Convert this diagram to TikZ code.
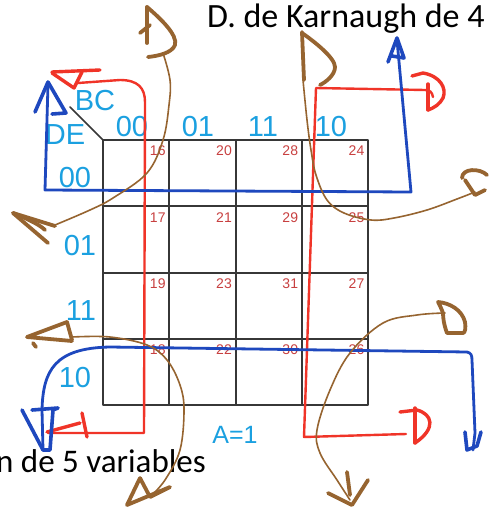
\documentclass[tikz,border=0pt]{standalone}
\usepackage{fontspec}
\setmainfont{Liberation Sans}
\newfontfamily\calib{Carlito}
\usetikzlibrary{calc}
\definecolor{kcyan}{RGB}{27,160,224}
\definecolor{knum}{RGB}{200,64,64}
\definecolor{kgrid}{RGB}{55,55,55}
\definecolor{kred}{RGB}{240,52,40}
\definecolor{kblue}{RGB}{30,72,190}
\definecolor{kbrown}{RGB}{150,100,48}
\begin{document}
\begin{tikzpicture}[x=1pt,y=-1pt,line join=round,line cap=round,
  cell/.style={draw=kgrid,line width=2pt,minimum width=66.25pt,minimum height=66.25pt,inner sep=0pt,outer sep=0pt},
  num/.style={text=knum,font=\fontsize{14}{14}\selectfont,anchor=north east,inner sep=0pt},
  lbl/.style={text=kcyan,font=\fontsize{29}{29}\selectfont,inner sep=0pt,anchor=base},
  ttl/.style={text=black,font=\calib\fontsize{34}{34}\selectfont,inner sep=0pt,anchor=base west},
  redl/.style={draw=kred,line width=2.4pt},
  redh/.style={draw=kred,line width=3.4pt},
  bluel/.style={draw=kblue,line width=2.8pt},
  blueh/.style={draw=kblue,line width=3.6pt},
  brownl/.style={draw=kbrown,line width=1.6pt},
  brownh/.style={draw=kbrown,line width=3.8pt}]
\useasboundingbox (0,0) rectangle (488,509);
\fill[white] (0,0) rectangle (488,509);
% grid
\foreach \i/\cb in {0/16,1/20,2/28,3/24}{
  \foreach \j/\rb in {0/0,1/1,2/3,3/2}{
    \node[cell] (c\i\j) at ({103+66.25*(\i+0.5)},{140+66.25*(\j+0.5)}) {};
    \pgfmathtruncatemacro\nn{\cb+\rb}
    \node[num] (n\i\j) at ($(c\i\j.north east)+(-3.5,6)$) {\nn};
  }
}
% corner
\coordinate (dg) at (70,107);
\draw[kgrid,line width=1.5pt] (dg) -- (c00.north west);
\node[lbl] (bc) at (95,110) {BC};
\node[lbl] (de) at (65,144) {DE};
\node[lbl] (h0) at (132,136) {00};
\node[lbl] (h1) at (198,136) {01};
\node[lbl] (h2) at (263,136) {11};
\node[lbl] (h3) at (331,136) {10};
\node[lbl] (r0) at (75,187) {00};
\node[lbl] (r1) at (80,255) {01};
\node[lbl] (r2) at (81,320) {11};
\node[lbl] (r3) at (75,387) {10};
\node[lbl,font=\fontsize{25}{25}\selectfont] (a1) at (235,443) {A=1};
\node[ttl] (title) at (207,27) {D. de Karnaugh de 4};
\node[ttl,font=\calib\fontsize{33}{33}\selectfont] (sub) at (-4,472) {n de 5 variables};
% red strokes
\coordinate (rAt) at (78,83);
\coordinate (rAb) at (48,433);
\draw[redl] (rAt) -- (120,80) .. controls (138,80) and (145,88) .. (145,102) -- (144,433) -- (rAb);
\draw[redh] (52,72) -- (100,70);
\draw[redh] (52,73) -- (74,88) -- (82,72);
\draw[redh] (47,432) -- (80,423);
\draw[redh] (82,413) -- (87,437);
\coordinate (rBt) at (433,97);
\coordinate (rBb) at (406,434);
\draw[redl] (rBt) .. controls (432,92) and (430,90) .. (425,90) -- (316,88) -- (304,437) -- (rBb);
\draw[redh] (412,76) -- (423,73) .. controls (440,76) and (447,88) .. (443,98) .. controls (440,104) and (434,108) .. (428,110);
\draw[redh] (428,84) -- (428,110);
\draw[redh] (400,412) -- (417,410) .. controls (432,414) and (437,428) .. (415,443);
\draw[redh] (415,408) -- (415,443);
% blue strokes
\coordinate (bAl) at (48,84);
\coordinate (bAr) at (397,40);
\draw[bluel] (bAl) -- (45,190) -- (411,192) -- (bAr);
\draw[blueh] (35,112) -- (48,82) -- (66,113) -- (52,114);
\draw[blueh] (388,62) -- (397,38) -- (404,58) -- (392,56);
\coordinate (bBl) at (43,450);
\coordinate (bBr) at (473,450);
\draw[bluel] (bBl) -- (42,410) .. controls (43,370) and (55,348) .. (110,347) -- (467,352) .. controls (471,353) and (472,355) .. (472,360) -- (475,433) -- (bBr);
\draw[blueh] (22,410) -- (43,450) -- (50,450) -- (53,410) -- (58,408) -- (32,410);
\draw[blueh] (465,432) -- (467,450) -- (477,446) -- (481,432);
% brown strokes
\draw[brownl] plot[smooth,tension=0.6] coordinates {(163,53) (170,80) (169,105) (163,140) (147,173) (113,198) (90,210) (55,225)};
\draw[brownh] (147,7) -- (147,43);
\draw[brownh] (140,33) -- (150,25);
\draw[brownh] (147,7) .. controls (160,18) and (178,35) .. (175,45) .. controls (172,53) and (158,56) .. (148,57);
\draw[brownh] (55,226) -- (13,213) -- (48,243);
\draw[brownh] (13,213) .. controls (30,220) and (40,225) .. (45,230);
\draw[brownl] plot[smooth,tension=0.6] coordinates {(303,80) (307,120) (311,150) (316,175) (327,200) (344,213) (371,220) (394,218) (427,210) (457,199) (475,192)};
\draw[brownh] (302,32) -- (304,80);
\draw[brownh] (302,33) .. controls (315,42) and (335,58) .. (335,67) .. controls (335,75) and (326,82) .. (320,85);
\draw[brownh] (462,178) .. controls (462,168) and (480,168) .. (487,175);
\draw[brownh] (465,180) -- (475,195) -- (485,190);
\draw[brownl] plot[smooth,tension=0.6] coordinates {(72,337) (110,337) (147,345) (167,360) (180,385) (184,410) (180,450) (165,480) (150,497)};
\draw[brownh] (72,340) -- (67,322) -- (27,337) -- (72,341);
\draw[brownh] (33,343) -- (36,347);
\draw[brownh] (140,478) -- (150,497) -- (170,487) -- (127,505) -- (140,478);
\draw[brownl] plot[smooth,tension=0.6] coordinates {(445,313) (417,315) (383,323) (350,353) (330,390) (317,430) (320,453) (337,480) (350,500)};
\draw[brownh] (443,313) .. controls (440,305) and (438,302) .. (438,302) .. controls (450,303) and (462,310) .. (465,322) .. controls (466,328) and (465,333) .. (463,333) -- (447,333) .. controls (444,325) and (443,318) .. (443,313);
\draw[brownh] (347,472) -- (350,495);
\draw[brownh] (368,480) -- (352,505) -- (328,493);
\end{tikzpicture}
\end{document}
